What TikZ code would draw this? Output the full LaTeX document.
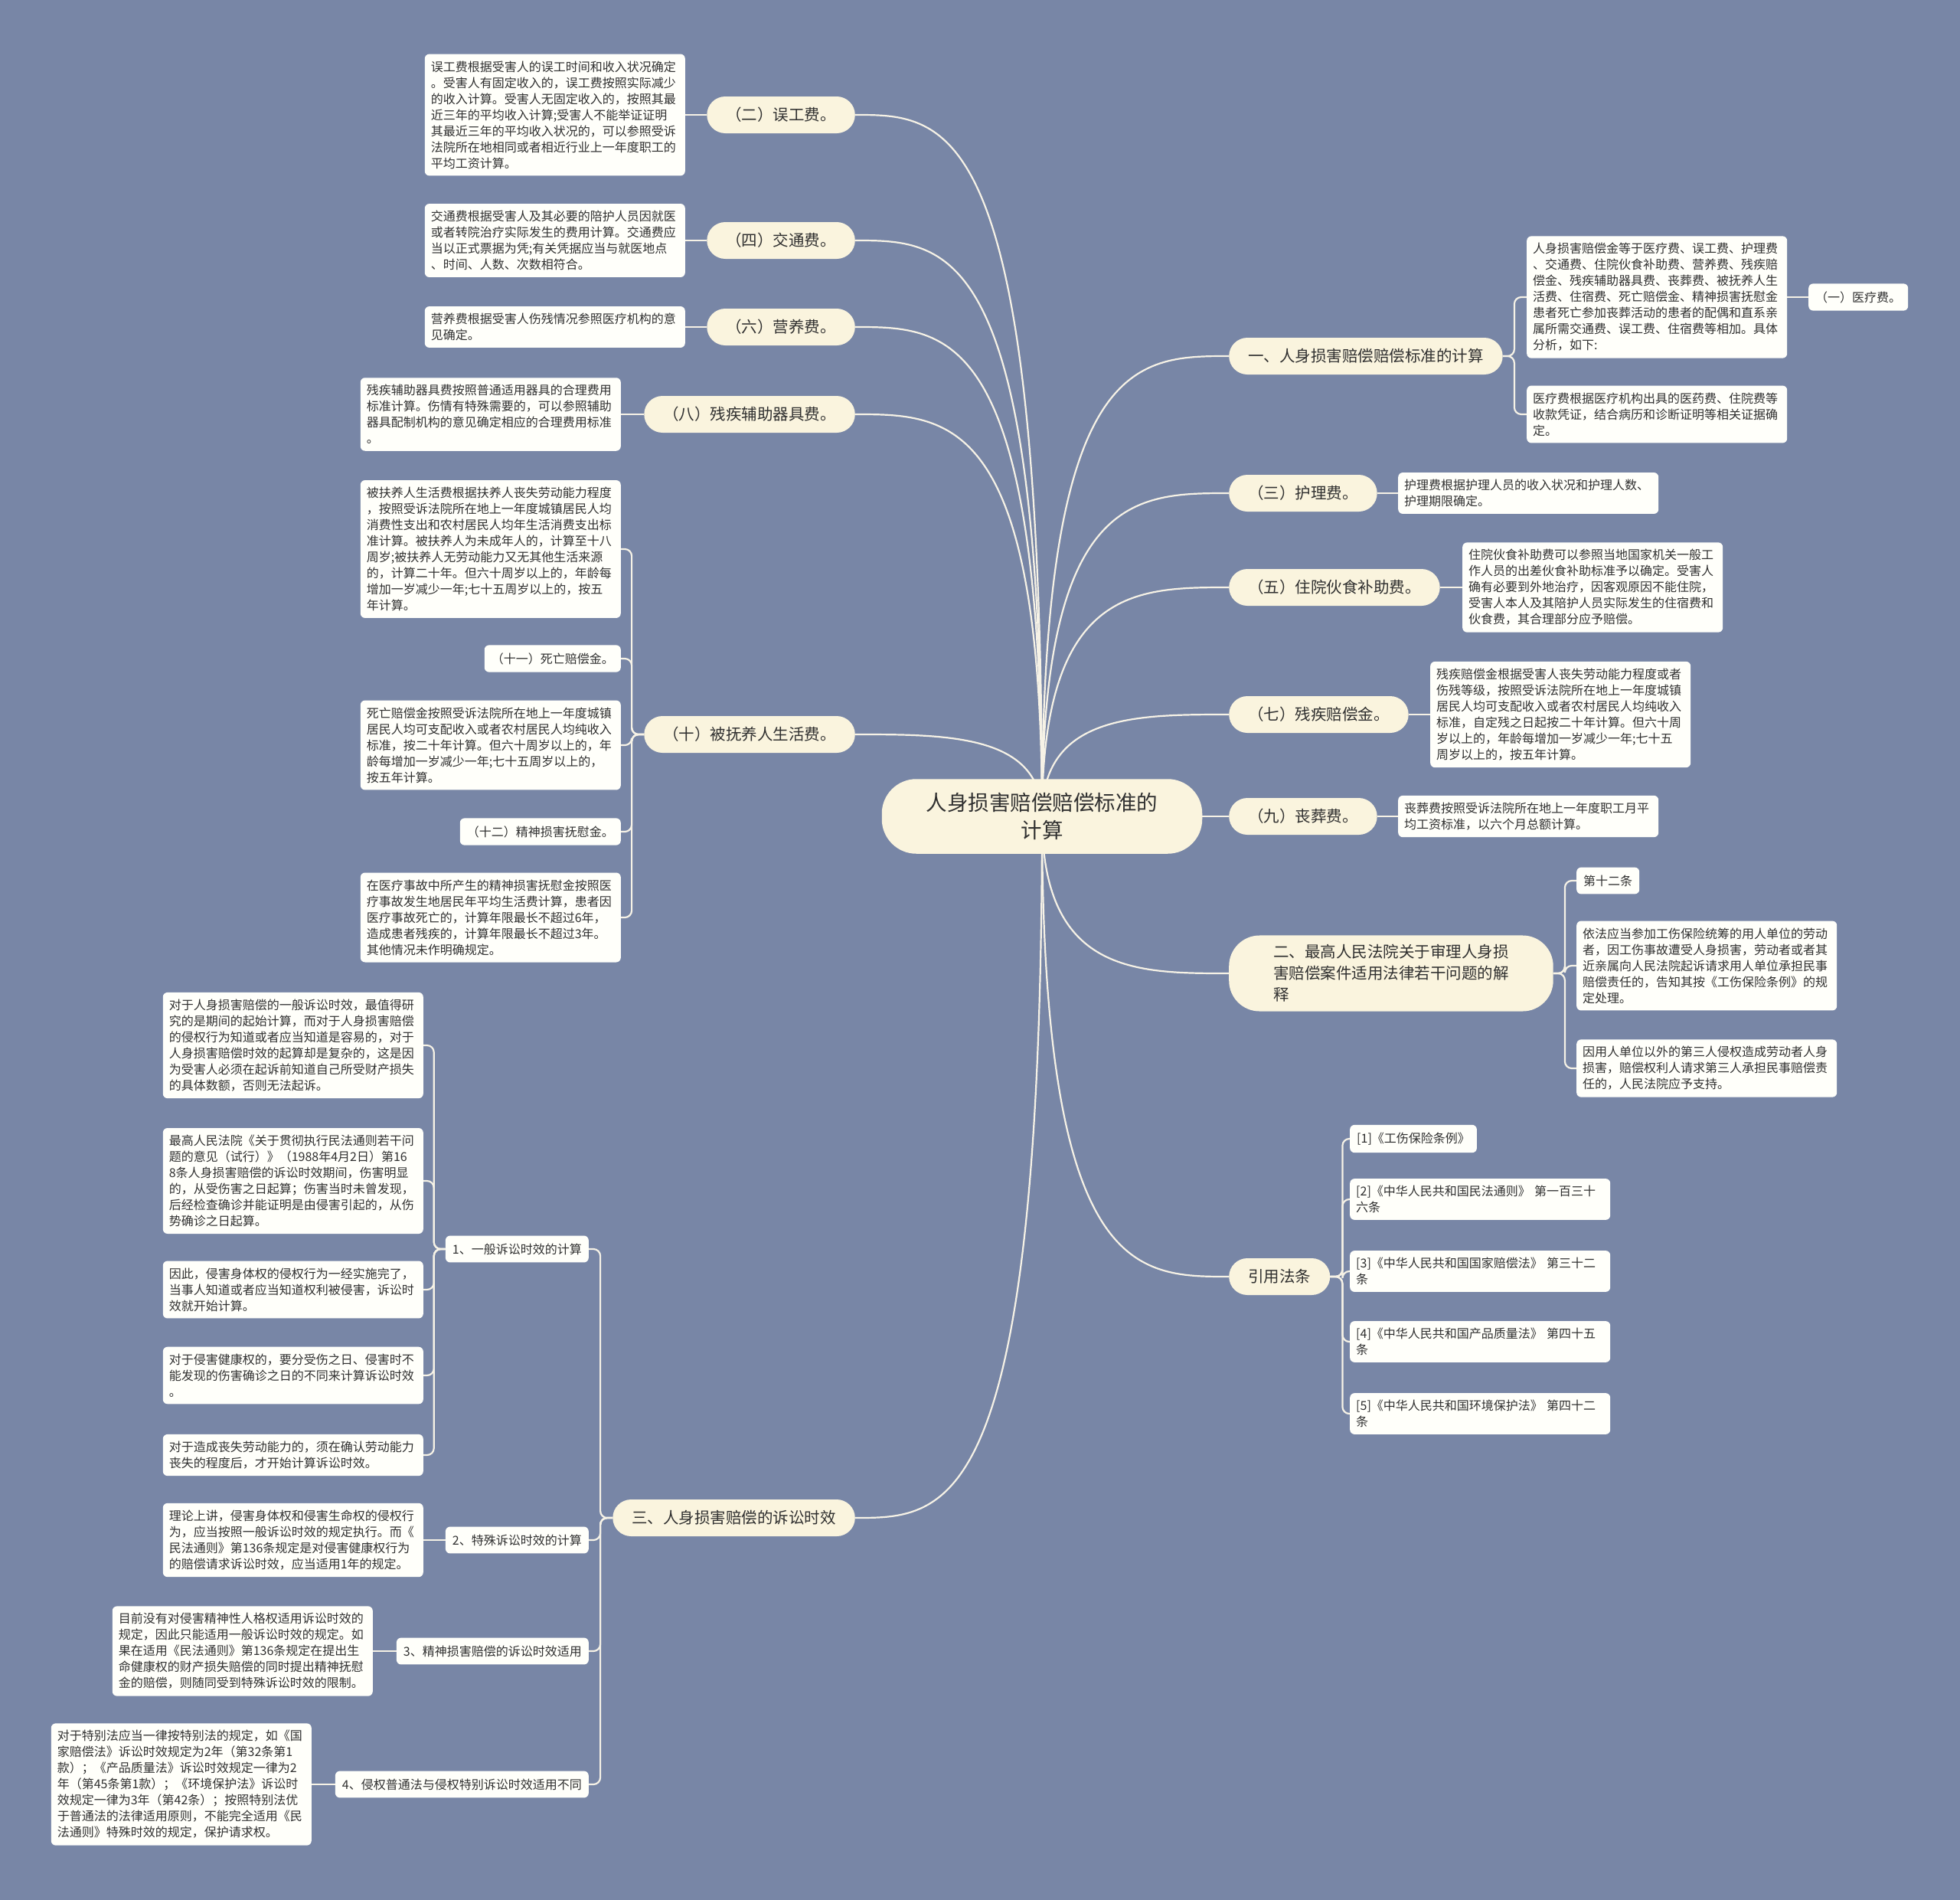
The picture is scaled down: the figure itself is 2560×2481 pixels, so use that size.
\documentclass[tikz,border=0pt]{standalone}
\usepackage{fontspec}
\setmainfont{Noto Sans CJK SC}
\usetikzlibrary{calc}
\definecolor{bgc}{RGB}{120,134,166}
\definecolor{pillc}{RGB}{250,244,222}
\definecolor{boxc}{RGB}{255,255,250}
\definecolor{linec}{RGB}{246,242,230}
\definecolor{txtc}{RGB}{48,48,48}
\pgfdeclarelayer{back}
\pgfdeclarelayer{lines}
\pgfsetlayers{back,lines,main}
\begin{document}
\begin{tikzpicture}[x=1pt,y=-1pt,
  pill/.style={fill=pillc, rounded corners=24pt, minimum height=48pt, inner xsep=25pt, inner ysep=6pt, font=\fontsize{20.5}{28}\selectfont, text=txtc},
  tbox/.style={fill=boxc, rounded corners=6pt, text width=324pt, align=left, inner xsep=8pt, inner ysep=9pt, font=\fontsize{16}{21}\selectfont, text=txtc},
  sbox/.style={fill=boxc, rounded corners=6pt, inner xsep=9pt, inner ysep=10pt, font=\fontsize{16}{21}\selectfont, text=txtc},
  conn/.style={draw=linec, line width=2.2pt},
  elb/.style={conn, rounded corners=9pt}
]
\useasboundingbox (0,0) rectangle (2560,2481);
\begin{pgfonlayer}{back}
\fill[bgc] (0,0) rectangle (2560,2481);
\end{pgfonlayer}

% centre
\node[pill, rounded corners=45pt, inner xsep=58pt, inner ysep=18pt, align=center, font=\fontsize{27.5}{36}\selectfont] (C) at (1361,1066) {人身损害赔偿赔偿标准的\\计算};

% left level-1
\node[pill, anchor=east] (N2) at (1117,150) {（二）误工费。};
\node[pill, anchor=east] (N4) at (1117,314) {（四）交通费。};
\node[pill, anchor=east] (N6) at (1117,427) {（六）营养费。};
\node[pill, anchor=east] (N8) at (1117,541) {（八）残疾辅助器具费。};
\node[pill, anchor=east] (N10) at (1117,959) {（十）被抚养人生活费。};
\node[pill, anchor=east] (N3) at (1117,1982) {三、人身损害赔偿的诉讼时效};

% right level-1
\node[pill, anchor=west] (N1) at (1605,465) {一、人身损害赔偿赔偿标准的计算};
\node[pill, anchor=west] (NR3) at (1605,644) {（三）护理费。};
\node[pill, anchor=west] (NR5) at (1605,767) {（五）住院伙食补助费。};
\node[pill, anchor=west] (NR7) at (1605,933) {（七）残疾赔偿金。};
\node[pill, anchor=west] (NR9) at (1605,1066) {（九）丧葬费。};
\node[pill, anchor=west, rounded corners=40pt, inner xsep=58pt, inner ysep=12pt, align=left] (N2R) at (1605,1271) {二、最高人民法院关于审理人身损\\害赔偿案件适用法律若干问题的解\\释};
\node[pill, anchor=west] (NL) at (1605,1667) {引用法条};

% left text boxes
\node[tbox, anchor=east] (T2) at (895,150) {误工费根据受害人的误工时间和收入状况确定\\。受害人有固定收入的，误工费按照实际减少\\的收入计算。受害人无固定收入的，按照其最\\近三年的平均收入计算;受害人不能举证证明\\其最近三年的平均收入状况的，可以参照受诉\\法院所在地相同或者相近行业上一年度职工的\\平均工资计算。};
\node[tbox, anchor=east] (T4) at (895,314) {交通费根据受害人及其必要的陪护人员因就医\\或者转院治疗实际发生的费用计算。交通费应\\当以正式票据为凭;有关凭据应当与就医地点\\、时间、人数、次数相符合。};
\node[tbox, anchor=east] (T6) at (895,427) {营养费根据受害人伤残情况参照医疗机构的意\\见确定。};
\node[tbox, anchor=east] (T8) at (811,541) {残疾辅助器具费按照普通适用器具的合理费用\\标准计算。伤情有特殊需要的，可以参照辅助\\器具配制机构的意见确定相应的合理费用标准\\。};
\node[tbox, anchor=east] (T10a) at (811,717) {被扶养人生活费根据扶养人丧失劳动能力程度\\，按照受诉法院所在地上一年度城镇居民人均\\消费性支出和农村居民人均年生活消费支出标\\准计算。被扶养人为未成年人的，计算至十八\\周岁;被扶养人无劳动能力又无其他生活来源\\的，计算二十年。但六十周岁以上的，年龄每\\增加一岁减少一年;七十五周岁以上的，按五\\年计算。};
\node[sbox, anchor=east] (T11) at (811,860) {（十一）死亡赔偿金。};
\node[tbox, anchor=east] (T10b) at (811,973) {死亡赔偿金按照受诉法院所在地上一年度城镇\\居民人均可支配收入或者农村居民人均纯收入\\标准，按二十年计算。但六十周岁以上的，年\\龄每增加一岁减少一年;七十五周岁以上的，\\按五年计算。};
\node[sbox, anchor=east] (T12) at (811,1086) {（十二）精神损害抚慰金。};
\node[tbox, anchor=east] (T10c) at (811,1198) {在医疗事故中所产生的精神损害抚慰金按照医\\疗事故发生地居民年平均生活费计算，患者因\\医疗事故死亡的，计算年限最长不超过6年，\\造成患者残疾的，计算年限最长不超过3年。\\其他情况未作明确规定。};

% section three
\node[sbox, anchor=east] (S1) at (769,1631) {1、一般诉讼时效的计算};
\node[sbox, anchor=east] (S2) at (769,2011) {2、特殊诉讼时效的计算};
\node[sbox, anchor=east] (S3) at (769,2156) {3、精神损害赔偿的诉讼时效适用};
\node[sbox, anchor=east] (S4) at (769,2330) {4、侵权普通法与侵权特别诉讼时效适用不同};
\node[tbox, anchor=east] (U1a) at (553,1365) {对于人身损害赔偿的一般诉讼时效，最值得研\\究的是期间的起始计算，而对于人身损害赔偿\\的侵权行为知道或者应当知道是容易的，对于\\人身损害赔偿时效的起算却是复杂的，这是因\\为受害人必须在起诉前知道自己所受财产损失\\的具体数额，否则无法起诉。};
\node[tbox, anchor=east] (U1b) at (553,1542) {最高人民法院《关于贯彻执行民法通则若干问\\题的意见（试行）》（1988年4月2日）第16\\8条人身损害赔偿的诉讼时效期间，伤害明显\\的，从受伤害之日起算；伤害当时未曾发现，\\后经检查确诊并能证明是由侵害引起的，从伤\\势确诊之日起算。};
\node[tbox, anchor=east] (U1c) at (553,1684) {因此，侵害身体权的侵权行为一经实施完了，\\当事人知道或者应当知道权利被侵害，诉讼时\\效就开始计算。};
\node[tbox, anchor=east] (U1d) at (553,1796) {对于侵害健康权的，要分受伤之日、侵害时不\\能发现的伤害确诊之日的不同来计算诉讼时效\\。};
\node[tbox, anchor=east] (U1e) at (553,1900) {对于造成丧失劳动能力的，须在确认劳动能力\\丧失的程度后，才开始计算诉讼时效。};
\node[tbox, anchor=east] (U2) at (553,2011) {理论上讲，侵害身体权和侵害生命权的侵权行\\为，应当按照一般诉讼时效的规定执行。而《\\民法通则》第136条规定是对侵害健康权行为\\的赔偿请求诉讼时效，应当适用1年的规定。};
\node[tbox, anchor=east] (U3) at (487,2156) {目前没有对侵害精神性人格权适用诉讼时效的\\规定，因此只能适用一般诉讼时效的规定。如\\果在适用《民法通则》第136条规定在提出生\\命健康权的财产损失赔偿的同时提出精神抚慰\\金的赔偿，则随同受到特殊诉讼时效的限制。};
\node[tbox, anchor=east] (U4) at (407,2330) {对于特别法应当一律按特别法的规定，如《国\\家赔偿法》诉讼时效规定为2年（第32条第1\\款）；《产品质量法》诉讼时效规定一律为2\\年（第45条第1款）；《环境保护法》诉讼时\\效规定一律为3年（第42条）；按照特别法优\\于普通法的法律适用原则，不能完全适用《民\\法通则》特殊时效的规定，保护请求权。};

% right text boxes
\node[tbox, anchor=west] (R1a) at (1994,388) {人身损害赔偿金等于医疗费、误工费、护理费\\、交通费、住院伙食补助费、营养费、残疾赔\\偿金、残疾辅助器具费、丧葬费、被抚养人生\\活费、住宿费、死亡赔偿金、精神损害抚慰金\\患者死亡参加丧葬活动的患者的配偶和直系亲\\属所需交通费、误工费、住宿费等相加。具体\\分析，如下:};
\node[sbox, anchor=west] (R1m) at (2362,388) {（一）医疗费。};
\node[tbox, anchor=west] (R1b) at (1994,541) {医疗费根据医疗机构出具的医药费、住院费等\\收款凭证，结合病历和诊断证明等相关证据确\\定。};
\node[tbox, anchor=west] (R3) at (1826,644) {护理费根据护理人员的收入状况和护理人数、\\护理期限确定。};
\node[tbox, anchor=west] (R5) at (1910,767) {住院伙食补助费可以参照当地国家机关一般工\\作人员的出差伙食补助标准予以确定。受害人\\确有必要到外地治疗，因客观原因不能住院，\\受害人本人及其陪护人员实际发生的住宿费和\\伙食费，其合理部分应予赔偿。};
\node[tbox, anchor=west] (R7) at (1868,933) {残疾赔偿金根据受害人丧失劳动能力程度或者\\伤残等级，按照受诉法院所在地上一年度城镇\\居民人均可支配收入或者农村居民人均纯收入\\标准，自定残之日起按二十年计算。但六十周\\岁以上的，年龄每增加一岁减少一年;七十五\\周岁以上的，按五年计算。};
\node[tbox, anchor=west] (R9) at (1826,1066) {丧葬费按照受诉法院所在地上一年度职工月平\\均工资标准，以六个月总额计算。};
\node[sbox, anchor=west] (R2a) at (2059,1150) {第十二条};
\node[tbox, anchor=west] (R2b) at (2059,1261) {依法应当参加工伤保险统筹的用人单位的劳动\\者，因工伤事故遭受人身损害，劳动者或者其\\近亲属向人民法院起诉请求用人单位承担民事\\赔偿责任的，告知其按《工伤保险条例》的规\\定处理。};
\node[tbox, anchor=west] (R2c) at (2059,1395) {因用人单位以外的第三人侵权造成劳动者人身\\损害，赔偿权利人请求第三人承担民事赔偿责\\任的，人民法院应予支持。};
\node[sbox, anchor=west] (L1) at (1763,1487) {[1]《工伤保险条例》};
\node[tbox, anchor=west] (L2) at (1763,1566) {[2]《中华人民共和国民法通则》 第一百三十\\六条};
\node[tbox, anchor=west] (L3) at (1763,1660) {[3]《中华人民共和国国家赔偿法》 第三十二\\条};
\node[tbox, anchor=west] (L4) at (1763,1752) {[4]《中华人民共和国产品质量法》 第四十五\\条};
\node[tbox, anchor=west] (L5) at (1763,1846) {[5]《中华人民共和国环境保护法》 第四十二\\条};

% connectors
\begin{pgfonlayer}{lines}
\foreach \n in {N2,N4,N6,N8,N10,N3} {
  \draw[conn] (C.center) .. controls (C.center |- \n.east) and ($(\n.east)!0.5!(C.center |- \n.east)$) .. (\n.east);
}
\foreach \n in {N1,NR3,NR5,NR7,NR9,N2R,NL} {
  \draw[conn] (C.center) .. controls (C.center |- \n.west) and ($(\n.west)!0.5!(C.center |- \n.west)$) .. (\n.west);
}
\draw[conn] (N2.west) -- (T2.east);
\draw[conn] (N4.west) -- (T4.east);
\draw[conn] (N6.west) -- (T6.east);
\draw[conn] (N8.west) -- (T8.east);
\foreach \k in {T10a,T11,T10b,T12,T10c} { \draw[elb] (N10.west) -- ++(-16,0) |- (\k.east); }
\foreach \k in {S1,S2,S3,S4} { \draw[elb] (N3.west) -- ++(-16,0) |- (\k.east); }
\foreach \k in {U1a,U1b,U1c,U1d,U1e} { \draw[elb] (S1.west) -- ++(-15,0) |- (\k.east); }
\draw[conn] (S2.west) -- (U2.east);
\draw[conn] (S3.west) -- (U3.east);
\draw[conn] (S4.west) -- (U4.east);
\foreach \k in {R1a,R1b} { \draw[elb] (N1.east) -- ++(15,0) |- (\k.west); }
\draw[conn] (R1a.east) -- (R1m.west);
\draw[conn] (NR3.east) -- (R3.west);
\draw[conn] (NR5.east) -- (R5.west);
\draw[conn] (NR7.east) -- (R7.west);
\draw[conn] (NR9.east) -- (R9.west);
\foreach \k in {R2a,R2b,R2c} { \draw[elb] (N2R.east) -- ++(15,0) |- (\k.west); }
\foreach \k in {L1,L2,L3,L4,L5} { \draw[elb] (NL.east) -- ++(16,0) |- (\k.west); }
\end{pgfonlayer}
\end{tikzpicture}
\end{document}
